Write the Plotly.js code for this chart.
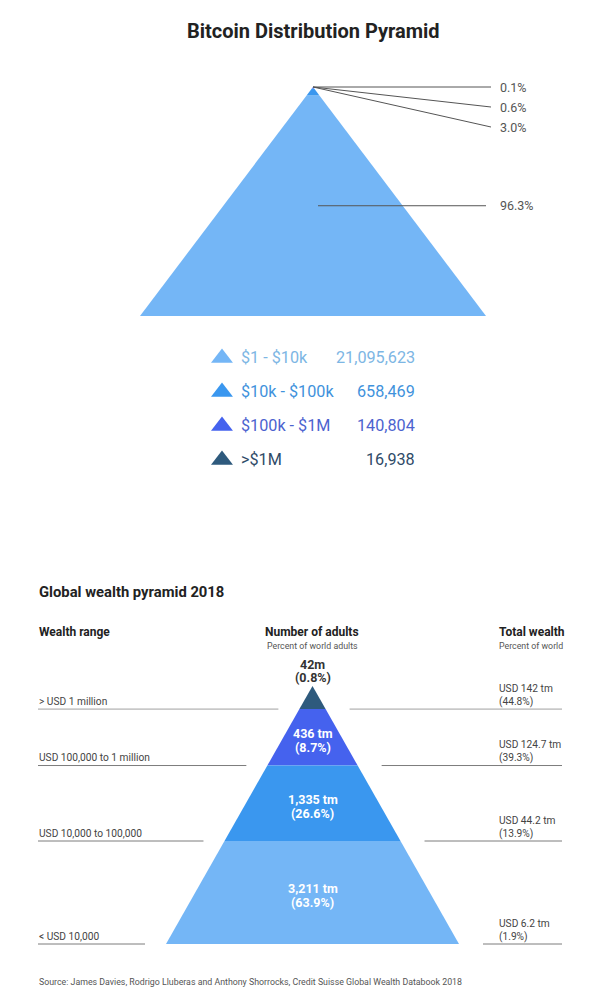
<!DOCTYPE html>
<html>
<head>
<meta charset="utf-8">
<script src="https://cdn.plot.ly/plotly-3.0.1.min.js"></script>
<style>html,body{margin:0;padding:0;background:#fff;}#chart{width:602px;height:1007px;}</style>
</head>
<body>
<div id="chart"></div>
<script>
// ---------- DATA ----------
const btcTiers = ['$1 - $10k', '$10k - $100k', '$100k - $1M', '>$1M'];
const btcAddresses = [21095623, 658469, 140804, 16938];
const btcShares = [96.3, 3.0, 0.6, 0.1];

const wealthRanges = ['< USD 10,000', 'USD 10,000 to 100,000', 'USD 100,000 to 1 million', '> USD 1 million'];
const adultsLabels = ['3,211 tm', '1,335 tm', '436 tm', '42m'];
const adultsShare = [63.9, 26.6, 8.7, 0.8];
const wealthTotal = ['USD 6.2 tm', 'USD 44.2 tm', 'USD 124.7 tm', 'USD 142 tm'];
const wealthShare = [1.9, 13.9, 39.3, 44.8];

// ---------- STYLE / LAYOUT CONSTANTS ----------
const tierColors = ['#74b6f6', '#3a97ef', '#4562ee', '#2e5a7d'];
const legendTextColors = ['#7db6e4', '#3f92dc', '#4c63cf', '#2f4b68'];
const FONT = 'Roboto, "Open Sans", Arial, sans-serif';
const TOP = {cx: 313, apexY: 87, baseY: 316, half: 173};
const BOT = {cx: 312.5, apexY: 686, baseY: 944, half: 146.5};

const traces = [];
const shapes = [];
const annotations = [];

function halfAt(g, y) { return g.half * (y - g.apexY) / (g.baseY - g.apexY); }
function band(g, yTop, yBot, color) {
  const a = halfAt(g, yTop), b = halfAt(g, yBot);
  traces.push({
    type: 'scatter', mode: 'lines', fill: 'toself', fillcolor: color,
    line: {width: 0, color: color}, hoverinfo: 'skip',
    x: [g.cx - a, g.cx + a, g.cx + b, g.cx - b, g.cx - a],
    y: [yTop, yTop, yBot, yBot, yTop]
  });
}
function line(x0, y0, x1, y1, color, w) {
  shapes.push({type: 'line', xref: 'x', yref: 'y', x0: x0, y0: y0, x1: x1, y1: y1,
    line: {color: color, width: w || 1}});
}
function text(x, y, t, size, color, xa, ya, bold) {
  annotations.push({x: x, y: y, xref: 'x', yref: 'y', text: bold ? '<b>' + t + '</b>' : t,
    showarrow: false, borderpad: 0, xanchor: xa || 'left', yanchor: ya || 'middle',
    align: xa === 'center' ? 'center' : 'left',
    font: {family: FONT, size: size, color: color}});
}

// ---------- TOP: Bitcoin pyramid (height proportional) ----------
text(313, 31, 'Bitcoin Distribution Pyramid', 20, '#222', 'center', 'middle', true);
const Htop = TOP.baseY - TOP.apexY;
let cumFromBase = 0;
const topMids = [];
btcShares.forEach((s, i) => {
  const yBot = TOP.baseY - Htop * cumFromBase / 100;
  cumFromBase += s;
  const yTop = TOP.baseY - Htop * Math.min(cumFromBase, 100) / 100;
  band(TOP, yTop, yBot, tierColors[i]);
  topMids.push((yTop + yBot) / 2);
});
// leader lines & labels
btcShares.forEach((s, i) => {
  let ly;
  if (i === 0) { ly = topMids[0]; line(TOP.cx + 5, ly, 486, ly, '#555'); }
  else { ly = TOP.apexY + 20 * (btcShares.length - 1 - i); line(TOP.cx, TOP.apexY, 491, ly, '#555'); }
  text(499, ly, s.toFixed(1) + '%', 12.5, '#555', 'left', 'middle');
});
// legend
btcTiers.forEach((t, i) => {
  const y = 357 + 34 * i;
  traces.push({type: 'scatter', mode: 'markers', x: [222], y: [y + 1], hoverinfo: 'skip',
    marker: {symbol: 'triangle-up', size: 19, color: tierColors[i], line: {width: 0}}});
  text(240, y, t, 16.2, legendTextColors[i], 'left', 'middle');
  text(416, y, btcAddresses[i].toLocaleString('en-US'), 16.2, legendTextColors[i], 'right', 'middle');
});

// ---------- BOTTOM: Global wealth pyramid (area proportional) ----------
text(38, 592, 'Global wealth pyramid 2018', 14.8, '#222', 'left', 'middle', true);
text(38, 632, 'Wealth range', 12, '#222', 'left', 'middle', true);
text(312, 632, 'Number of adults', 12, '#222', 'center', 'middle', true);
text(312, 646, 'Percent of world adults', 8.8, '#555', 'center', 'middle');
text(498, 632, 'Total wealth', 12, '#222', 'left', 'middle', true);
text(498, 646, 'Percent of world', 8.8, '#555', 'left', 'middle');

const Hb = BOT.baseY - BOT.apexY;
const n = adultsShare.length;
let cumTop = 0;
for (let k = n - 1; k >= 0; k--) {
  const yTop = BOT.apexY + Hb * Math.sqrt(cumTop / 100);
  cumTop += adultsShare[k];
  const yBot = BOT.apexY + Hb * Math.sqrt(Math.min(cumTop, 100) / 100);
  band(BOT, yTop, yBot, tierColors[k]);
  const pct = '(' + adultsShare[k].toFixed(1) + '%)';
  if (k === n - 1) {
    text(BOT.cx, yTop - 22, adultsLabels[k], 12.5, '#333', 'center', 'middle', true);
    text(BOT.cx, yTop - 9, pct, 12.5, '#333', 'center', 'middle', true);
  } else {
    const mid = (yTop + yBot) / 2 + 3;
    text(BOT.cx, mid - 7, adultsLabels[k], 12.5, '#ffffff', 'center', 'middle', true);
    text(BOT.cx, mid + 7, pct, 12.5, '#ffffff', 'center', 'middle', true);
  }
  const edge = halfAt(BOT, yBot);
  const lc = k === n - 1 ? '#a0a0a0' : '#7c7c7c';
  line(38, yBot, BOT.cx - edge - 21, yBot, lc);
  line(BOT.cx + edge + 24, yBot, 562, yBot, lc);
  text(38, yBot - 8, wealthRanges[k], 10.2, '#444', 'left', 'middle');
  text(498, yBot - 21, wealthTotal[k], 10.2, '#444', 'left', 'middle');
  text(498, yBot - 7.5, '(' + wealthShare[k].toFixed(1) + '%)', 10.2, '#444', 'left', 'middle');
}

text(38, 982, 'Source: James Davies, Rodrigo Lluberas and Anthony Shorrocks, Credit Suisse Global Wealth Databook 2018', 8.8, '#555', 'left', 'middle');

const layout = {
  width: 602, height: 1007,
  margin: {l: 0, r: 0, t: 0, b: 0, pad: 0},
  paper_bgcolor: '#ffffff', plot_bgcolor: '#ffffff',
  showlegend: false,
  xaxis: {range: [0, 602], visible: false, fixedrange: true},
  yaxis: {range: [1007, 0], visible: false, fixedrange: true},
  shapes: shapes,
  annotations: annotations,
  font: {family: FONT}
};
Plotly.newPlot('chart', traces, layout, {displayModeBar: false, staticPlot: true});
</script>
</body>
</html>
